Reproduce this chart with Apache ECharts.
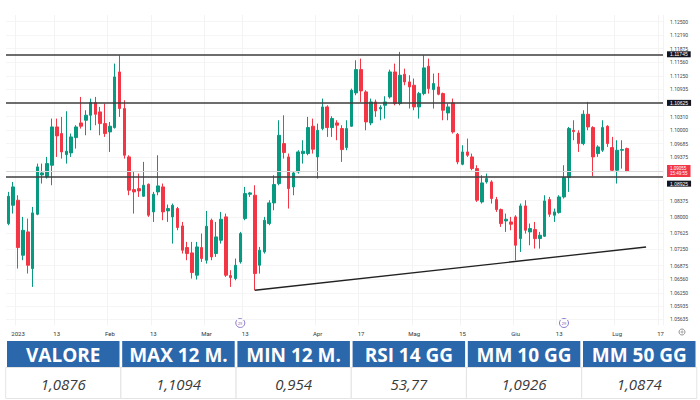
<!DOCTYPE html>
<html><head><meta charset="utf-8">
<script src="https://cdn.jsdelivr.net/npm/echarts@6/dist/echarts.min.js"></script>
<style>html,body{margin:0;padding:0;background:#fff}#c{width:700px;height:400px}</style>
</head><body><div id="c"></div>
<script>
const openVals=[1.07844,1.08266,1.08382,1.07114,1.07652,1.06807,1.08059,1.08965,1.08919,1.09188,1.10071,1.09918,1.09434,1.09472,1.09825,1.10163,1.10225,1.1034,1.10632,1.10417,1.10148,1.09956,1.10056,1.11338,1.10494,1.0938,1.08627,1.0865,1.08474,1.0875,1.08113,1.08574,1.08689,1.08136,1.07998,1.0819,1.0779,1.07291,1.07168,1.06654,1.07291,1.06999,1.07921,1.07153,1.0746,1.07998,1.06646,1.06577,1.06961,1.07959,1.0852,1.08497,1.06884,1.07191,1.07844,1.0832,1.08766,1.09687,1.0938,1.08689,1.09034,1.09457,1.09457,1.10087,1.0938,1.10033,1.10532,1.10056,1.10163,1.10033,1.09595,1.10087,1.10855,1.11392,1.10878,1.10163,1.10647,1.10486,1.1057,1.10762,1.11338,1.10609,1.11285,1.11108,1.11031,1.10532,1.10839,1.11469,1.10931,1.10993,1.10839,1.10394,1.10624,1.09902,1.09211,1.09495,1.0938,1.09111,1.08343,1.08804,1.08804,1.08397,1.08167,1.07905,1.07882,1.07998,1.07498,1.08251,1.07652,1.07706,1.07498,1.07552,1.08397,1.08036,1.08097,1.08458,1.08904,1.09994,1.09933,1.09687,1.10363,1.10056,1.09457,1.09534,1.10087,1.09595,1.09073,1.09534,1.09572];
const closeVals=[1.08474,1.08689,1.07291,1.0769,1.06884,1.0809,1.0915,1.09011,1.09226,1.10071,1.09864,1.09495,1.09511,1.09841,1.10071,1.10087,1.1034,1.10632,1.10363,1.10148,1.09918,1.10087,1.11223,1.10494,1.09418,1.08612,1.08574,1.08597,1.08727,1.08036,1.0852,1.08712,1.08113,1.0819,1.08266,1.07752,1.0723,1.07153,1.06715,1.07306,1.07038,1.07783,1.07076,1.07537,1.07944,1.06654,1.066,1.06884,1.07614,1.08535,1.08551,1.06692,1.0723,1.07921,1.0832,1.08743,1.09879,1.0948,1.0865,1.09011,1.09495,1.09511,1.10056,1.09557,1.09994,1.10532,1.10056,1.10263,1.1011,1.09549,1.10033,1.10916,1.11392,1.10901,1.10186,1.10647,1.1044,1.10517,1.10647,1.11338,1.10609,1.11262,1.11108,1.10993,1.10532,1.10839,1.11431,1.10954,1.1107,1.10824,1.10455,1.10532,1.09956,1.09265,1.09495,1.09418,1.09111,1.08382,1.08781,1.08881,1.0842,1.08167,1.07844,1.07944,1.07829,1.07345,1.08251,1.0769,1.07729,1.07498,1.07575,1.08366,1.08059,1.08113,1.08458,1.08904,1.10033,1.09964,1.09687,1.10363,1.10071,1.0938,1.0961,1.10056,1.09687,1.09073,1.09534,1.09549,1.09055];
const lowVals=[1.07806,1.08074,1.06807,1.06999,1.06692,1.06385,1.08036,1.08766,1.08881,1.08727,1.0938,1.09342,1.09226,1.0938,1.09572,1.10033,1.09879,1.09994,1.1011,1.09879,1.09841,1.09495,1.10033,1.10302,1.09342,1.08497,1.08074,1.08458,1.08458,1.07998,1.07882,1.08497,1.07921,1.07882,1.07383,1.0769,1.07153,1.06999,1.06577,1.06554,1.06961,1.06922,1.06999,1.07076,1.07383,1.06615,1.06385,1.06538,1.06922,1.07921,1.08458,1.06308,1.06692,1.07153,1.07806,1.08151,1.08727,1.09342,1.0819,1.08497,1.08996,1.09226,1.09418,1.09457,1.08881,1.09994,1.09841,1.09841,1.09764,1.09265,1.09534,1.10071,1.10801,1.10647,1.09994,1.1011,1.10302,1.10225,1.10263,1.10724,1.1057,1.1057,1.11031,1.10494,1.10455,1.10263,1.10801,1.10839,1.10494,1.10801,1.10225,1.10225,1.09918,1.09211,1.09188,1.0938,1.09073,1.08343,1.08305,1.08766,1.08305,1.08113,1.07767,1.07652,1.0769,1.06999,1.07191,1.07614,1.07345,1.07268,1.07268,1.07537,1.07998,1.07882,1.08074,1.0842,1.08574,1.09764,1.09495,1.09649,1.09994,1.08935,1.0938,1.09495,1.0961,1.09034,1.08766,1.09111,1.0903];
const highVals=[1.08574,1.08804,1.08497,1.07998,1.07959,1.08228,1.09226,1.09226,1.0938,1.10263,1.10263,1.10302,1.10432,1.09918,1.1011,1.10762,1.10455,1.10724,1.10762,1.10532,1.10609,1.10186,1.1153,1.11722,1.10686,1.09418,1.09034,1.08996,1.09265,1.08766,1.08574,1.09418,1.08766,1.08282,1.08305,1.08228,1.07882,1.07422,1.07422,1.07422,1.07614,1.08136,1.07959,1.07882,1.08113,1.08074,1.06769,1.07038,1.07652,1.08689,1.08574,1.08727,1.07306,1.07998,1.08382,1.08958,1.10225,1.1034,1.09457,1.09034,1.09534,1.09764,1.10302,1.10263,1.10148,1.10724,1.1057,1.10317,1.10225,1.1011,1.10225,1.10954,1.11607,1.11646,1.10916,1.10724,1.10701,1.1057,1.10778,1.11392,1.1153,1.11799,1.11415,1.11262,1.11185,1.10878,1.11722,1.11646,1.113,1.11315,1.10862,1.10609,1.10724,1.09933,1.09649,1.09802,1.09457,1.09188,1.08958,1.08996,1.08842,1.08458,1.0819,1.08074,1.07998,1.08036,1.08305,1.08382,1.07844,1.07882,1.07652,1.08497,1.08458,1.0819,1.08497,1.09188,1.10071,1.10225,1.09994,1.10455,1.10647,1.10087,1.09649,1.10225,1.1011,1.09841,1.09764,1.09764,1.09595];

const totalSlots=136;
const xTickIdx=[2,10,21,30,41,49,64,73,84,94,105,114,126,135];
const xTickText=['2023','13','Feb','13','Mar','13','Apr','17','Mag','15','Giu','13','Lug','17'];
const yTickVals=[1.125,1.1219,1.11875,1.1156,1.1125,1.10935,1.1031,1.1,1.09685,1.09375,1.08375,1.08,1.07625,1.0725,1.06875,1.0656,1.0625,1.05935,1.05635];
const levelVals=[1.11745,1.10625,1.08925];
const lastPrice=1.09055;
const lastTime='15:49:55';
const trendIdx=[51,132];
const trendVals=[1.06308,1.07304];
const eventIdx=[48,115];
const eventText=['29','29'];
const tableHeads=['VALORE','MAX 12 M.','MIN 12 M.','RSI 14 GG','MM 10 GG','MM 50 GG'];
const tableVals=['1,0876','1,1094','0,954','53,77','1,0926','1,0874'];

const labelMap={};
xTickIdx.forEach((k,j)=>{labelMap[k]=xTickText[j];});
const categories=[];
for(let i=0;i<totalSlots;i++) categories.push('d'+i);
const candleData=openVals.map((o,i)=>[o,closeVals[i],lowVals[i],highVals[i]]);

const chart=echarts.init(document.getElementById('c'),null,{renderer:'svg'});

const G={left:6,right:37,top:15,bottom:74.7};
const plotW=700-G.left-G.right;
const band=plotW/totalSlots;

const graphics=[];
const colX0=7, pitch=115.2, colW=112.5;
tableHeads.forEach((h,i)=>{
  const x=colX0+i*pitch;
  graphics.push({type:'rect',shape:{x:x,y:341,width:colW,height:26},style:{fill:'#2b67ab'},silent:true});
  graphics.push({type:'text',style:{x:x+colW/2,y:355,text:h,fill:'#fff',fontSize:19,fontWeight:'bold',fontFamily:'"Open Sans", "Liberation Sans", sans-serif',align:'center',verticalAlign:'middle'},silent:true});
  graphics.push({type:'rect',shape:{x:x-1.3,y:367.5,width:colW+2.6,height:31},style:{fill:'#fff',stroke:'#e4e4e4',lineWidth:1},silent:true});
  graphics.push({type:'text',style:{x:x+colW/2,y:384,text:tableVals[i],fill:'#3a3a3a',fontSize:15,fontStyle:'italic',fontFamily:'"Open Sans", "Liberation Sans", sans-serif',align:'center',verticalAlign:'middle'},silent:true});
});
eventIdx.forEach((k,j)=>{
  const cx=G.left+(k+0.5)*band;
  graphics.push({type:'circle',shape:{cx:cx,cy:323,r:4.5},style:{fill:'#fff',stroke:'#8c7bd0',lineWidth:1},silent:true});
  graphics.push({type:'text',style:{x:cx,y:323,text:eventText[j],fill:'#6a58b8',fontSize:4,align:'center',verticalAlign:'middle'},silent:true});
});
graphics.push({type:'circle',shape:{cx:682,cy:332,r:3},style:{fill:'none',stroke:'#777',lineWidth:0.8},silent:true});
graphics.push({type:'circle',shape:{cx:682,cy:332,r:1},style:{fill:'none',stroke:'#777',lineWidth:0.6},silent:true});

const lvlLines=levelVals.map((v,i)=>({
  yAxis:v,
  lineStyle:{color:'#3c3c3c',width:1.5,type:'solid'},
  label:{show:true,position:'end',distance:4,formatter:v.toFixed(5),color:'#fff',backgroundColor:'#131722',padding:[0.5,3,0.5,3],fontSize:5,offset:i===2?[0,7]:[0,0]}
}));
lvlLines.unshift({
  yAxis:lastPrice,
  lineStyle:{color:'#d8d8d8',width:1,type:'solid'},
  label:{show:true,position:'end',distance:4,formatter:lastPrice.toFixed(5)+'\n'+lastTime,color:'#fff',backgroundColor:'#f23645',padding:[0.5,3,0.5,3],fontSize:4.5,lineHeight:5.5}
});

chart.setOption({
  animation:false,
  backgroundColor:'#fff',
  grid:G,
  xAxis:{type:'category',data:categories,boundaryGap:true,
    axisLine:{show:false},axisTick:{show:false},
    axisLabel:{interval:0,formatter:(v,i)=>labelMap[i]||'',fontSize:6,color:'#333',margin:5,
      fontFamily:'Roboto, sans-serif'},
    splitLine:{show:true,interval:(i)=>labelMap[i]!==undefined,lineStyle:{color:'#f3f3f3',width:1}}
  },
  yAxis:{type:'value',position:'right',min:1.055,max:1.1265,scale:true,
    axisLine:{show:false},
    axisTick:{show:false,customValues:yTickVals},
    axisLabel:{customValues:yTickVals,formatter:(v)=>v.toFixed(5),fontSize:5,color:'#444',margin:7,fontFamily:'Roboto, sans-serif'},
    splitLine:{show:true,lineStyle:{color:'#f5f5f5',width:1}}
  },
  series:[
    {type:'candlestick',data:candleData,barWidth:'64%',
      itemStyle:{color:'#089981',color0:'#f23645',borderColor:'#089981',borderColor0:'#f23645',borderWidth:1},
      markLine:{symbol:['none','none'],precision:5,silent:true,animation:false,data:lvlLines}
    },
    {type:'line',data:trendIdx.map((k,j)=>[k,trendVals[j]]),symbol:'none',silent:true,
      lineStyle:{color:'#222',width:1.3}}
  ],
  graphic:graphics
});
</script></body></html>
